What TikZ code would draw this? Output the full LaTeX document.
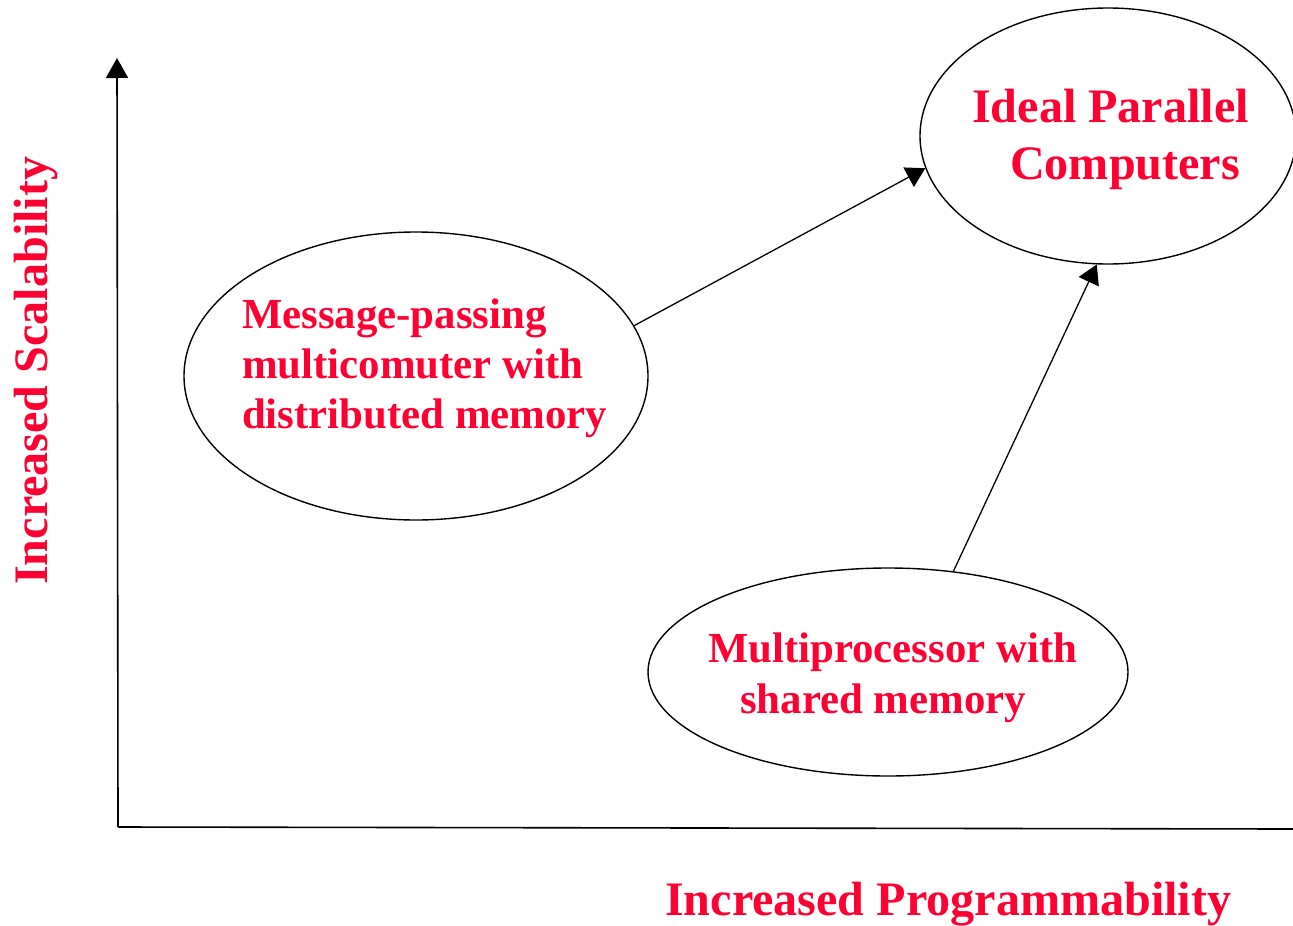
\documentclass[tikz,border=0pt]{standalone}
\usepackage{fontspec}
\setmainfont{Liberation Serif}
\usetikzlibrary{shapes.geometric,arrows.meta}
\definecolor{lblred}{RGB}{255,0,51}
\tikzset{
  oval/.style={draw,ellipse,line width=1.4pt,inner sep=0pt},
  big/.style={anchor=base west,inner sep=0pt,text=lblred,font=\fontsize{48.1}{50}\selectfont\bfseries},
  mid/.style={anchor=base west,inner sep=0pt,text=lblred,font=\fontsize{42.8}{45}\selectfont\bfseries},
  axis/.style={line width=1.6pt},
  conn/.style={line width=1.3pt,-{Triangle[length=19pt,width=22pt]}}
}
\begin{document}
\begin{tikzpicture}[x=1pt,y=-1pt]
\useasboundingbox (0,0) rectangle (1293,926);
% ellipses
\node[oval,minimum width=464pt,minimum height=288pt] (E1) at (416,376) {};
\node[oval,minimum width=376pt,minimum height=256pt] (E2) at (1108,136) {};
\node[oval,minimum width=480pt,minimum height=208pt] (E3) at (888,672) {};
% texts
\node[big] (t1) at (972,122) {Ideal Parallel};
\node[big] (t2) at (1010,179) {Computers};
\node[mid] (t3) at (242,328) {Message-passing};
\node[mid] (t4) at (242,378) {multicomuter with};
\node[mid] (t5) at (242,428) {distributed memory};
\node[mid] (t6) at (708,662) {Multiprocessor with};
\node[mid] (t7) at (740,713) {shared memory};
\node[big] (xl) at (665,915) {Increased Programmability};
\node[big,rotate=90] (yl) at (47,585) {Increased Scalability};
% axes
\coordinate (O) at (118,827);
\coordinate (Y) at (117,58);
\coordinate (X) at (1293,829);
\draw[axis,-{Triangle[length=20pt,width=22pt]}] (O) -- (Y);
\draw[axis] (O) -- (X);
% connectors
\draw[conn] (E1.13) -- (E2.190);
\draw[conn] (E3.57) -- (E2.265);
\end{tikzpicture}
\end{document}
